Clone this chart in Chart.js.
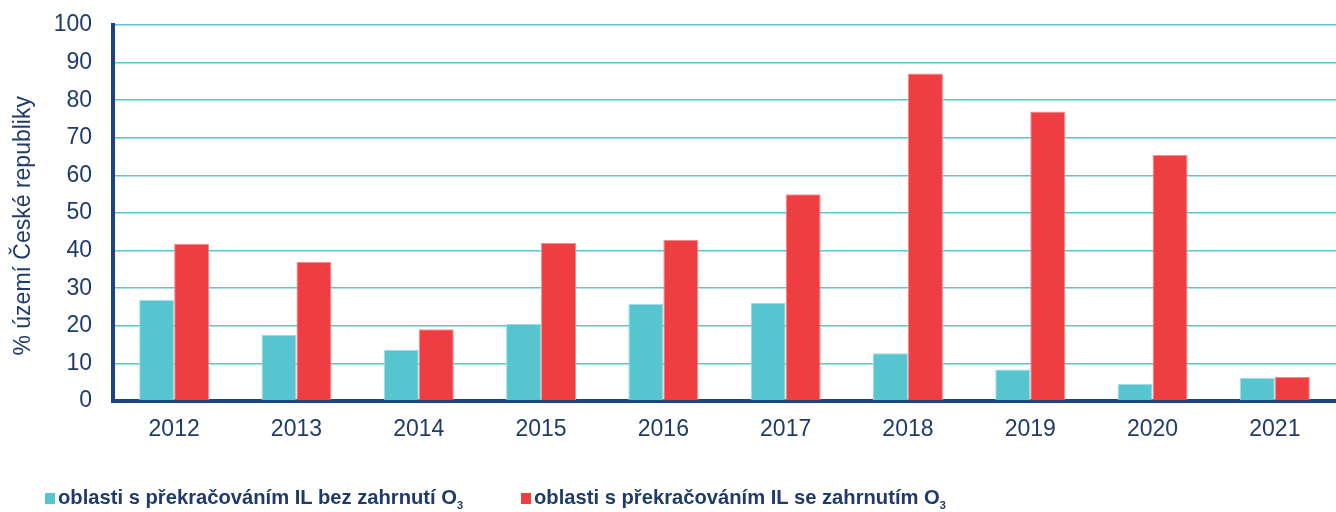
<!DOCTYPE html>
<html><head><meta charset="utf-8">
<script src="https://cdn.jsdelivr.net/npm/chart.js@4/dist/chart.umd.min.js"></script>
<style>
html,body{margin:0;padding:0;background:#fff;}
#wrap{position:relative;width:1336px;height:512px;}
#c{position:absolute;left:0;top:0;}
#legend{position:absolute;left:45px;top:486px;font-family:"Liberation Sans Narrow","Liberation Sans",Arial,sans-serif;font-weight:bold;font-size:20.2px;color:#1F3B6B;white-space:nowrap;}
.item{position:absolute;top:0;}
.sw{display:inline-block;width:10px;height:11px;margin-right:3px;vertical-align:0px;}
sub{font-size:11px;vertical-align:-5px;}
</style></head><body>
<div id="wrap"><canvas id="c" width="1336" height="512"></canvas>
<div id="legend"></div></div>
<script>
const categories = ["2012","2013","2014","2015","2016","2017","2018","2019","2020","2021"];
const seriesWithoutO3 = [26.9, 17.6, 13.6, 20.5, 25.8, 26.1, 12.7, 8.4, 4.6, 6.1];
const seriesWithO3 = [41.8, 37.0, 19.1, 42.0, 42.8, 55.0, 87.1, 77.0, 65.4, 6.4];
const seriesLabels = ["oblasti s překračováním IL bez zahrnutí O", "oblasti s překračováním IL se zahrnutím O"];
const yTicks = [0,10,20,30,40,50,60,70,80,90,100];
const yTitle = "% území České republiky";
const colors = ["#57C5D0", "#EF3E42"];
const navy = "#1F3B6B";

new Chart(document.getElementById('c'), {
  type: 'bar',
  data: {
    labels: categories,
    datasets: [
      {label: seriesLabels[0], data: seriesWithoutO3, backgroundColor: colors[0], borderColor: '#9EDDE3', borderWidth: 1, categoryPercentage: 0.572, barPercentage: 1},
      {label: seriesLabels[1], data: seriesWithO3, backgroundColor: colors[1], borderColor: '#F58A8C', borderWidth: 1, categoryPercentage: 0.572, barPercentage: 1}
    ]
  },
  options: {
    responsive: false, animation: false,
    layout: {autoPadding: false, padding: {top: 25, right: 0, left: 0, bottom: 0}},
    plugins: {legend: {display: false}, tooltip: {enabled: false}},
    scales: {
      x: {
        grid: {display: false, drawTicks: false},
        border: {display: true, color: '#1B4580', width: 4},
        ticks: {color: navy, font: {family: "'Liberation Sans', Arial, sans-serif", size: 23}, padding: 15},
        afterFit: s => { s.height = 111; s.paddingLeft = 0; s.paddingRight = 0; }
      },
      y: {
        min: 0, max: 100,
        afterBuildTicks: s => { s.ticks = yTicks.map(v => ({value: v})); },
        grid: {color: '#5BC6D0', lineWidth: 1.5, drawTicks: false},
        border: {display: true, color: '#1B4580', width: 4},
        ticks: {color: navy, font: {family: "'Liberation Sans', Arial, sans-serif", size: 23}, padding: 21},
        title: {display: true, text: yTitle + '    ', color: navy, font: {family: "'Liberation Sans', Arial, sans-serif", size: 23}, padding: {top: 10, bottom: 0}},
        afterFit: s => { s.width = 113; s.paddingTop = 0; s.paddingBottom = 0; }
      }
    }
  }
});

const leg = document.getElementById('legend');
const lefts = [0, 476];
seriesLabels.forEach((t, i) => {
  const d = document.createElement('div');
  d.className = 'item';
  d.style.left = lefts[i] + 'px';
  d.innerHTML = '<span class="sw" style="background:' + colors[i] + '"></span>' + t + '<sub>3</sub>';
  leg.appendChild(d);
});
</script>
</body></html>
